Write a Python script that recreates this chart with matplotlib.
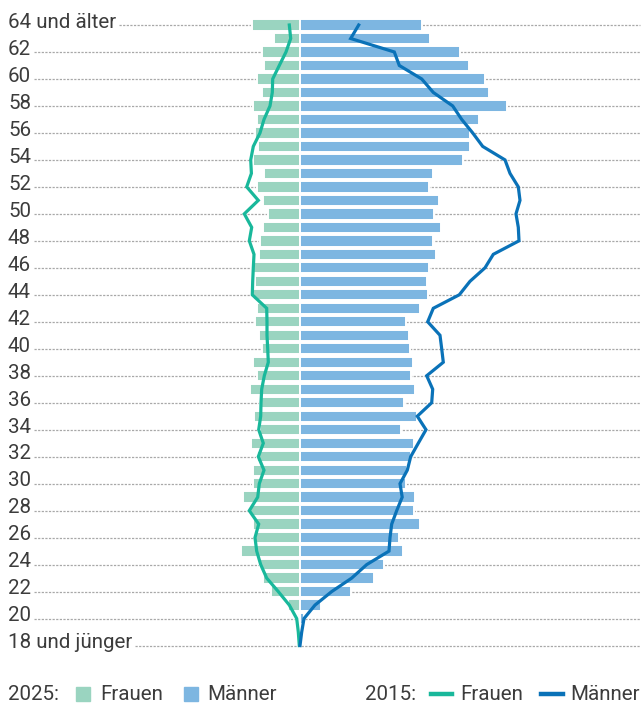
import matplotlib.pyplot as plt
from matplotlib.patches import Rectangle
from matplotlib.lines import Line2D

plt.rcParams['font.family'] = ['Roboto', 'DejaVu Sans']
plt.rcParams['lines.scale_dashes'] = False

# Alter 18 (und jünger) bis 64 (und älter)
ages = list(range(18, 65))

# 2025 Balken (relative Einheiten)
frauen_2025 = [0, 0, 2, 11.4, 28.7, 36.7, 39.7, 58.7, 44.7, 47, 49.7, 57, 46.4, 46.4, 42.4, 48.7,
               39.7, 45.4, 39.7, 49.4, 43, 46.4, 37.7, 40.4, 45, 43, 46.4, 44.7, 48, 41, 39.4, 37,
               32, 36.4, 42.4, 35.7, 47, 42, 44.4, 43, 47, 38, 42.7, 35.7, 38, 25.7, 47.4]
maenner_2025 = [0, 0, 4, 21.6, 51, 74, 84, 103, 99, 120, 114, 115.6, 106, 107, 111.6, 114,
                101.3, 117, 104.3, 115.3, 111.3, 113.6, 110.3, 109, 106.3, 120.3, 128, 127, 129.3,
                136, 133, 141, 134.6, 139, 129, 133, 163.6, 170.3, 170.3, 179, 207, 189.6, 185.3,
                169.6, 160.3, 130.3, 122.6]

# 2015 Linien
frauen_2015 = [0.4, 1.4, 3, 10.4, 21.4, 33, 39, 43, 44.7, 41, 50.4, 42, 40.4, 35.7, 41.4, 36.4,
               41, 39, 38.7, 38, 35.4, 31.4, 32, 32.7, 32.7, 33, 47.4, 47, 46.4, 45.7, 50.4, 48,
               55.4, 41.4, 53, 48.3, 49, 46.4, 39.7, 35.7, 29.7, 27.4, 27, 20.4, 13.7, 9, 10.4]
maenner_2015 = [0.3, 2, 4.3, 15.3, 32, 52, 67, 89.3, 90.3, 92, 97, 102.5, 100.3, 107.6, 111,
                118.6, 126.3, 117.6, 132, 133, 127, 143.6, 142, 140.3, 128, 133.6, 159.6, 170.3,
                185.3, 193.6, 219.3, 218.6, 216.3, 220.3, 218.6, 210.3, 205.3, 183, 173, 162, 153,
                133.6, 122, 99.6, 94.6, 51, 59]

label_ages = list(range(18, 65, 2))
labels = {18: "18 und jünger", 64: "64 und älter"}

c_frauen_bar = "#9ad4c0"
c_maenner_bar = "#7db6e1"
c_frauen_line = "#19b89b"
c_maenner_line = "#0a72b8"
c_text = "#3c3c3c"

W, H = 643, 704
fig = plt.figure(figsize=(W / 100, H / 100), dpi=100)
ax = fig.add_axes([0, 0, 1, 1])
cx = 299.7
row = 13.49
ax.set_xlim(-cx, W - cx)
ax.set_ylim(64 - (H - 25) / row, 64 + 25 / row)
ax.axis("off")

# Beschriftung und gepunktete Linien
renderer = fig.canvas.get_renderer()
for a in label_ages:
    t = ax.text(-cx + 8, a + 0.2, labels.get(a, str(a)), fontsize=14.8, color=c_text,
                va='center', ha='left')
    bb = t.get_window_extent(renderer)
    x0 = bb.x1 - cx + 3
    ax.plot([x0, W - cx - 3], [a, a], color="#a8a8a8", lw=0.9,
            linestyle=(0, (1.6, 1.0)), zorder=1)

# Balken 2025
bh = 0.84
ax.barh(ages, [-v for v in frauen_2025], height=bh, color=c_frauen_bar,
        edgecolor="white", linewidth=1.4, zorder=2)
ax.barh(ages, maenner_2025, height=bh, color=c_maenner_bar,
        edgecolor="white", linewidth=1.4, zorder=2)

# Linien 2015
ax.plot([-v for v in frauen_2015], ages, color=c_frauen_line, lw=2.3, zorder=3,
        solid_joinstyle='miter')
ax.plot(maenner_2015, ages, color=c_maenner_line, lw=2.3, zorder=3,
        solid_joinstyle='miter')

# Legende
ly = 1 - 694 / H
tk = dict(fontsize=14.8, color=c_text, va='center', ha='left',
          transform=fig.transFigure)
fig.text(8 / W, ly, "2025:", **tk)
fig.patches.append(Rectangle((76 / W, 1 - 701 / H), 14 / W, 14 / H, color=c_frauen_bar,
                             transform=fig.transFigure))
fig.text(100 / W, ly, "Frauen", **tk)
fig.patches.append(Rectangle((184 / W, 1 - 701 / H), 14 / W, 14 / H, color=c_maenner_bar,
                             transform=fig.transFigure))
fig.text(207 / W, ly, "Männer", **tk)
fig.text(365 / W, ly, "2015:", **tk)
fig.lines.append(Line2D([431 / W, 452 / W], [ly, ly], color=c_frauen_line, lw=3.2,
                        transform=fig.transFigure))
fig.text(460 / W, ly, "Frauen", **tk)
fig.lines.append(Line2D([541 / W, 563 / W], [ly, ly], color=c_maenner_line, lw=3.2,
                        transform=fig.transFigure))
fig.text(570 / W, ly, "Männer", **tk)

fig.savefig("out.png", dpi=100)
